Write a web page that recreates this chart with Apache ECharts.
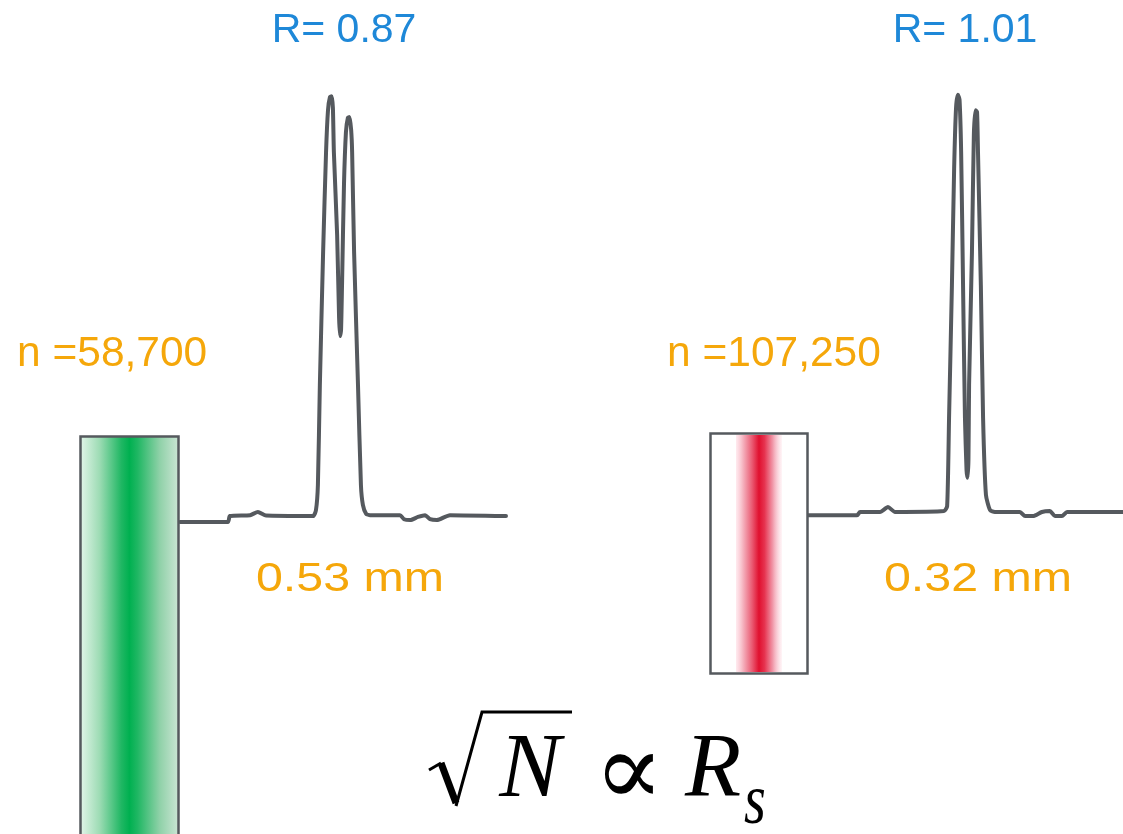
<!DOCTYPE html>
<html>
<head>
<meta charset="utf-8">
<script src="https://cdn.jsdelivr.net/npm/echarts@6/dist/echarts.min.js"></script>
<style>
html,body{margin:0;padding:0;background:#fff;}
#chart{width:1123px;height:834px;}
</style>
</head>
<body>
<div id="chart"></div>
<script>
// Chromatogram 1 (0.53 mm particles): time (arbitrary units) vs detector signal (% of full scale)
const leftTime   = [0, 14.7, 15.3, 21.5, 23.9, 26.4, 40.8, 41.7, 42.3, 42.9, 43.9, 44.8, 45.4, 46.0, 46.5, 46.9, 47.2, 48.2, 48.8, 49.1, 49.4, 49.7, 50.3, 50.9, 51.5, 52.0, 52.5, 52.8, 53.4, 54.6, 55.5, 56.1, 57.1, 58.3, 67.5, 68.7, 70.6, 73.0, 75.2, 76.7, 78.8, 82.8, 100];
const leftSignal = [1.8, 1.8, 3.1, 3.3, 4.0, 3.2, 3.1, 4.4, 10.0, 32.2, 61.8, 84.0, 93.3, 96.2, 96.4, 93.8, 84.0, 65.6, 47.1, 43.1, 44.4, 54.4, 76.7, 88.4, 91.6, 91.8, 88.9, 84.0, 61.8, 32.2, 10.0, 5.6, 3.6, 3.3, 3.3, 2.4, 2.2, 2.9, 3.3, 2.4, 2.2, 3.3, 3.1];
// Chromatogram 2 (0.32 mm particles)
const rightTime   = [0, 16.4, 17.3, 23.6, 26.1, 28.3, 43.7, 44.7, 45.3, 46.2, 46.9, 47.5, 48.1, 48.6, 49.1, 49.7, 50.3, 50.8, 51.1, 51.4, 51.6, 52.5, 53.1, 53.6, 54.1, 54.4, 55.3, 56.0, 56.9, 58.2, 59.7, 67.6, 69.2, 71.7, 74.5, 77.0, 78.6, 80.8, 82.4, 100];
const rightSignal = [3.3, 3.3, 4.0, 4.0, 5.1, 4.0, 4.2, 5.3, 24.9, 54.4, 80.4, 93.8, 96.7, 95.6, 84.0, 54.4, 24.9, 13.3, 11.6, 15.6, 32.2, 61.8, 87.8, 93.3, 92.9, 84.0, 54.4, 24.9, 7.8, 4.4, 4.0, 4.0, 3.1, 3.1, 4.0, 4.2, 3.1, 3.1, 4.0, 4.0];

const resolutionLabels = ['R= 0.87', 'R= 1.01'];
const plateLabels      = ['n =58,700', 'n =107,250'];
const particleLabels   = ['0.53 mm', '0.32 mm'];

const zip = (a, b) => a.map((v, i) => [v, b[i]]);

const LINE = '#55595e';
const BLUE = '#1e88d8';
const ORANGE = '#f5a70a';
const SANS = '"Liberation Sans", Arial, sans-serif';
const SERIF = '"Liberation Serif", "Times New Roman", serif';

const chart = echarts.init(document.getElementById('chart'), null, {renderer: 'canvas'});

function axisPair(idx) {
  return {
    x: {type: 'value', gridIndex: idx, min: 0, max: 100, show: false},
    y: {type: 'value', gridIndex: idx, min: 0, max: 100, show: false}
  };
}
const a0 = axisPair(0), a1 = axisPair(1);

const lineStyle = {color: LINE, width: 4, join: 'round', cap: 'round'};

const option = {
  backgroundColor: '#ffffff',
  animation: false,
  grid: [
    {left: 180, top: 80, width: 326, height: 450, outerBoundsMode: 'none', containLabel: false},
    {left: 805, top: 80, width: 318, height: 450, outerBoundsMode: 'none', containLabel: false}
  ],
  xAxis: [a0.x, a1.x],
  yAxis: [a0.y, a1.y],
  series: [
    {type: 'line', xAxisIndex: 0, yAxisIndex: 0, data: zip(leftTime, leftSignal),
     showSymbol: false, smooth: 0.2, lineStyle: lineStyle, z: 5},
    {type: 'line', xAxisIndex: 1, yAxisIndex: 1, data: zip(rightTime, rightSignal),
     showSymbol: false, smooth: 0.2, lineStyle: lineStyle, z: 5}
  ],
  graphic: [
    // left column (green band)
    {type: 'rect', z: 10, shape: {x: 80.5, y: 436.5, width: 98, height: 410},
     style: {
       fill: new echarts.graphic.LinearGradient(0, 0, 1, 0, [
         {offset: 0, color: '#e6f6ec'},
         {offset: 0.2, color: '#9edcb5'},
         {offset: 0.42, color: '#1fb763'},
         {offset: 0.5, color: '#00b050'},
         {offset: 0.58, color: '#1fb763'},
         {offset: 0.8, color: '#8fd1a8'},
         {offset: 1, color: '#cfe6d7'}
       ]),
       stroke: LINE, lineWidth: 2.5
     }},
    // right column (red band)
    {type: 'rect', z: 10, shape: {x: 710.5, y: 433.5, width: 97, height: 240},
     style: {fill: '#ffffff', stroke: LINE, lineWidth: 2.5}},
    {type: 'rect', z: 11, shape: {x: 736, y: 435, width: 46, height: 237},
     style: {
       fill: new echarts.graphic.LinearGradient(0, 0, 1, 0, [
         {offset: 0, color: 'rgba(255,220,228,0.6)'},
         {offset: 0.15, color: '#f5b3c0'},
         {offset: 0.35, color: '#ea5a72'},
         {offset: 0.5, color: '#e0102f'},
         {offset: 0.62, color: '#e6334f'},
         {offset: 0.8, color: '#f199aa'},
         {offset: 1, color: 'rgba(255,235,240,0.5)'}
       ])
     }},
    // labels
    {type: 'text', x: 344, y: 31, style: {text: resolutionLabels[0], font: '41px ' + SANS, fill: BLUE, align: 'center', verticalAlign: 'middle'}},
    {type: 'text', x: 965, y: 31, style: {text: resolutionLabels[1], font: '41px ' + SANS, fill: BLUE, align: 'center', verticalAlign: 'middle'}},
    {type: 'text', x: 17, y: 354, style: {text: plateLabels[0], font: '42.5px ' + SANS, fill: ORANGE, align: 'left', verticalAlign: 'middle'}},
    {type: 'text', x: 667, y: 354, style: {text: plateLabels[1], font: '42.5px ' + SANS, fill: ORANGE, align: 'left', verticalAlign: 'middle'}},
    {type: 'text', x: 350, y: 580, scaleX: 1.18, style: {text: particleLabels[0], font: '41px ' + SANS, fill: ORANGE, align: 'center', verticalAlign: 'middle'}},
    {type: 'text', x: 978, y: 580, scaleX: 1.18, style: {text: particleLabels[1], font: '41px ' + SANS, fill: ORANGE, align: 'center', verticalAlign: 'middle'}},
    // formula: sqrt(N) ∝ R_s
    {type: 'polyline', z: 12, shape: {points: [[429, 770], [441, 763]]}, style: {stroke: '#000', lineWidth: 3, fill: null}},
    {type: 'polyline', z: 12, shape: {points: [[441, 763], [456, 803]]}, style: {stroke: '#000', lineWidth: 7, fill: null, lineCap: 'butt'}},
    {type: 'polyline', z: 12, shape: {points: [[456, 806], [482, 712], [572, 712]]}, style: {stroke: '#000', lineWidth: 3, fill: null, lineJoin: 'miter'}},
    {type: 'text', x: 530, y: 772, style: {text: 'N', font: 'italic 92px ' + SERIF, fill: '#000', align: 'center', verticalAlign: 'middle'}},
    {type: 'text', x: 629, y: 778, style: {text: '\u221D', font: '104px "DejaVu Serif", ' + SERIF, fill: '#000', align: 'center', verticalAlign: 'middle'}},
    {type: 'text', x: 713, y: 772, style: {text: 'R', font: 'italic 92px ' + SERIF, fill: '#000', align: 'center', verticalAlign: 'middle'}},
    {type: 'text', x: 755, y: 804, scaleY: 1.3, style: {text: 's', font: 'italic 56px ' + SERIF, fill: '#000', align: 'center', verticalAlign: 'middle'}}
  ]
};
chart.setOption(option);
</script>
</body>
</html>
